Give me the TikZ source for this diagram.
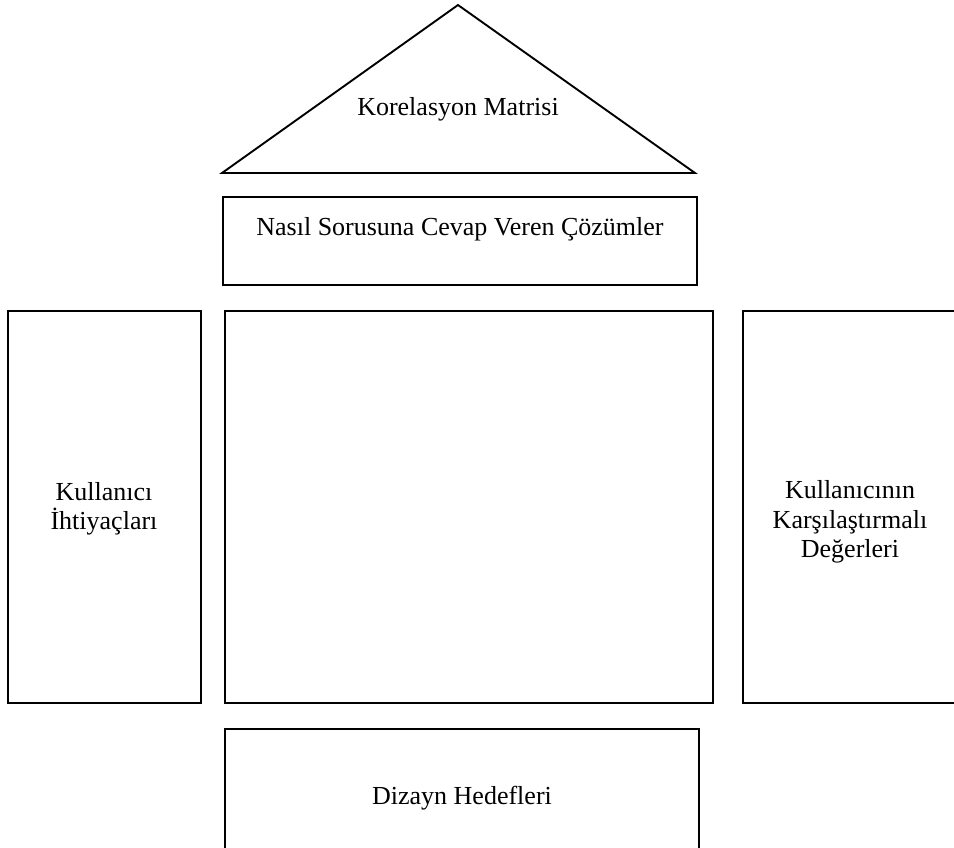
\documentclass[tikz,border=0pt]{standalone}
\usepackage{fontspec}
\setmainfont{Liberation Serif}
\begin{document}
\begin{tikzpicture}[x=1pt,y=-1pt,
  box/.style={draw,line width=1.9pt,inner sep=0pt},
  lbl/.style={font=\fontsize{26}{29.5}\selectfont,align=center,inner sep=0pt}]
\clip (0,0) rectangle (954,847);
\fill[white] (0,0) rectangle (954,847);
% roof
\coordinate (apex) at (458,5);
\coordinate (bl) at (222,173);
\coordinate (br) at (695,173);
\draw[line width=1.9pt,line join=miter] (bl) -- (apex) -- (br) -- cycle;
\node[lbl] (kor) at (458,109) {Korelasyon Matrisi};
% how box
\draw[box] (223,197) rectangle (697,285);
\node[lbl] (nas) at (460,229) {Nasıl Sorusuna Cevap Veren Çözümler};
% left
\draw[box] (8,311) rectangle (201,703);
\node[lbl] (kul) at (104,509) {Kullanıcı\\İhtiyaçları};
% middle
\draw[box] (225,311) rectangle (713,703);
% right
\draw[box] (743,311) rectangle (980,703);
\node[lbl] (kar) at (850,522) {Kullanıcının\\Karşılaştırmalı\\Değerleri};
% bottom
\draw[box] (225,729) rectangle (699,880);
\node[lbl] (diz) at (462,798) {Dizayn Hedefleri};
\end{tikzpicture}
\end{document}
